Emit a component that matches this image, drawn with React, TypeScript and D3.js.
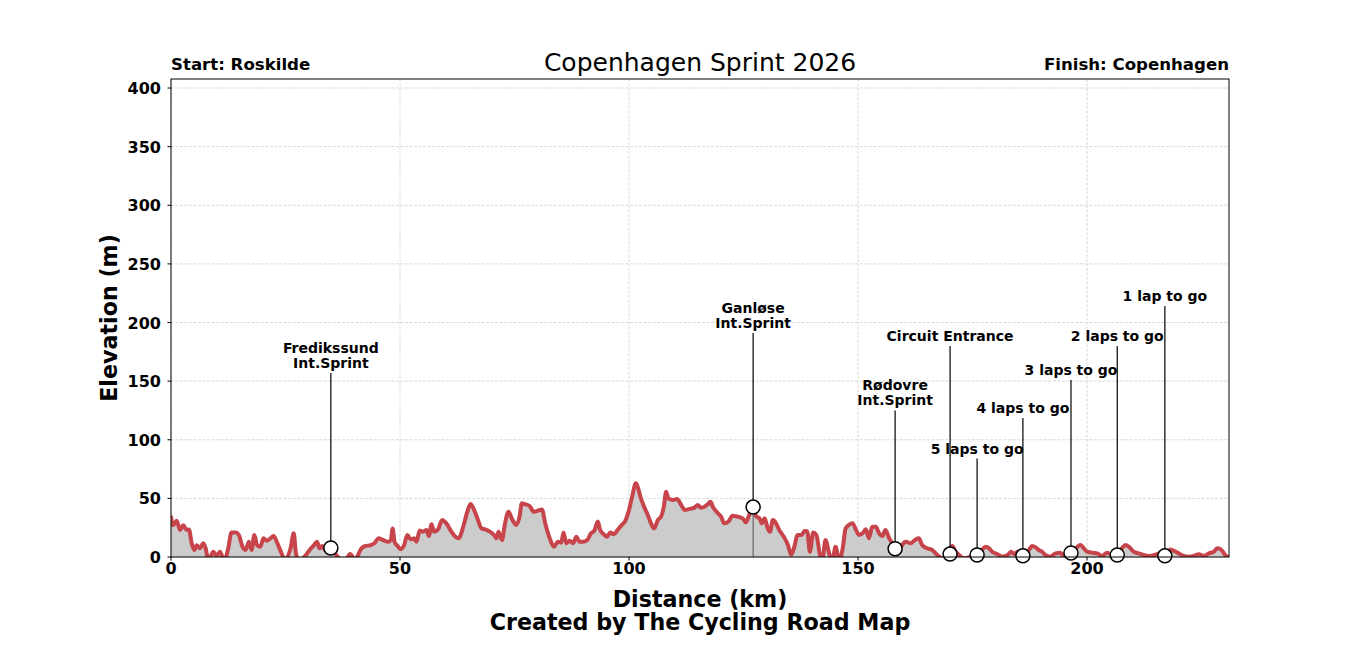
import React from "react";
import * as d3 from "d3";

// route profile
const profileKm = [
  0, 0.5, 1.24, 1.97, 2.69, 3.42, 3.93, 4.51, 5.09, 5.6, 6.33, 7.06, 7.57, 8.15, 9.24, 9.97, 10.7, 11.6,
  12.5, 13.2, 14.1, 14.8, 15.6, 16.3, 17.0, 17.6, 18.2, 18.8, 19.5, 20.2, 20.9, 21.7, 22.4, 23.1, 23.9,
  24.9, 26.1, 26.8, 27.3, 28.0, 29.3, 30.4, 31.1, 31.9, 32.4, 33.0, 33.8, 35.1, 36.2, 38.0, 39.1, 40.2,
  41.6, 42.4, 43.5, 44.4, 45.3, 46.3, 47.4, 48.0, 48.4, 48.8, 49.6, 50.1, 50.9, 51.6, 52.3, 53.1, 53.6,
  54.3, 55.0, 55.8, 56.3, 56.9, 57.4, 58.3, 59.2, 60.1, 61.2, 62.1, 62.8, 63.8, 64.7, 65.4, 66.2, 66.9,
  67.8, 68.6, 69.6, 70.5, 71.1, 71.5, 72.3, 72.8, 73.7, 74.4, 75.4, 76.1, 76.6, 77.2, 78.3, 79.2, 80.1,
  81.0, 81.7, 82.7, 83.6, 84.5, 85.2, 85.7, 86.3, 87.0, 87.8, 88.5, 89.2, 89.9, 90.9, 91.7, 92.4, 93.2,
  93.7, 94.5, 95.2, 95.9, 96.7, 97.5, 98.4, 99.1, 99.9, 100.6, 101.5, 102.0, 102.6, 103.3, 104.1, 104.8,
  105.5, 106.3, 107.0, 107.6, 108.1, 108.6, 109.6, 110.5, 111.4, 112.2, 113.2, 114.3, 115.0, 115.7,
  116.5, 117.2, 117.8, 118.3, 119.2, 120.1, 120.8, 121.7, 122.6, 123.7, 124.8, 125.5, 126.3, 127.1,
  127.8, 128.5, 129.0, 129.6, 130.3, 130.8, 131.4, 131.9, 132.8, 133.8, 134.7, 135.4, 136.1, 136.8,
  137.7, 138.3, 138.9, 139.5, 140.2, 140.9, 141.7, 142.2, 142.9, 143.7, 144.4, 145.1, 145.9, 146.6,
  147.3, 148.0, 148.8, 149.5, 150.2, 151.0, 151.7, 152.4, 153.1, 153.9, 154.6, 155.3, 156.0, 156.8,
  157.5, 158.2, 159.3, 160.4, 161.5, 162.6, 163.3, 164.0, 165.1, 166.2, 167.3, 168.4, 169.5, 170.6,
  171.3, 172.1, 173.1, 174.6, 175.7, 176.7, 177.9, 178.6, 179.3, 180.4, 181.5, 182.7, 183.4, 184.1,
  184.8, 186.2, 187.3, 188.0, 188.8, 189.5, 190.2, 190.9, 192.0, 193.1, 194.2, 194.9, 196.0, 196.8,
  197.9, 198.6, 199.3, 200.0, 201.1, 202.2, 203.3, 204.4, 205.5, 206.6, 207.6, 208.4, 209.1, 210.2,
  211.3, 212.4, 213.5, 214.6, 216.0, 217.3, 218.2, 218.9, 220.0, 221.1, 222.2, 223.3, 224.4, 225.5,
  226.6, 227.7, 228.4, 229.2, 229.9, 230.6, 231.0,
];
const profileElev = [
  34, 27, 31, 23, 27, 23, 23.5, 11.7, 6, 10, 7.4, 11.7, 7.4, -3, 4.5, 1, 4.5, -3,
  7.4, 20.8, 20.8, 18.8, 8.8, 6, 13, 6, 18.8, 10.2, 8.8, 15.9, 13.9, 15.9, 17.9, 13, 5.4,
  -2, 7.4, 20.2, 2.5, -3, 1, 6.6, 9.4, 13, 7.4, 9.4, 5.4, 6.8, 1, -3, 2.5, -2,
  7.4, 9.4, 10, 11.7, 15.9, 14.5, 13, 14.5, 24.4, 13, 8.8, 6.6, 10.2, 18.8, 15.1, 15.9, 13,
  22.5, 21.6, 23, 18, 28, 21.6, 23.6, 31.6, 28.8, 21.6, 17.3, 15.9, 25.8, 38.6, 45.2, 40, 32.9,
  24.4, 23.6, 21.6, 18.8, 15.9, 21.6, 14.5, 25.8, 38.6, 32.9, 27.3, 34.4, 45.8, 45.2, 43.5, 38.6, 39.5,
  40.6, 28.8, 15.9, 8.8, 13, 12.2, 20.8, 11.7, 13.9, 11.7, 17.3, 13, 13, 14.5, 20.2, 22.2, 30.2,
  23, 19.3, 17.3, 21, 19.3, 23, 27.3, 30.2, 38.7, 50, 62.8, 58.6, 50, 42.9, 35.8, 28.7,
  24.4, 31.5, 34.4, 42.9, 55.7, 50, 48.6, 49.5, 44.3, 40.1, 41, 42.1, 44.3, 42.1,
  42.9, 44.9, 47.2, 42.9, 38.1, 34.4, 28.7, 30.2, 35.2, 34.4, 33, 29.6, 36.4, 42,
  34.4, 33, 28.7, 33, 24.4, 21.5, 31.5, 30.1, 23, 17.3, 10.2, 2, 8.8, 18.8,
  18.8, 22.2, 22, 4.5, 20.8, 18.8, 1.7, -3, 14.5, 3, -3, 8.8, -3, 6,
  24.4, 27.3, 28.8, 23.6, 18.8, 20.2, 23.6, 16, 25.8, 25.8, 20.2, 18, 23, 16,
  11.7, 6.5, 8.8, 13, 11.7, 15, 16, 10.2, 7.4, 6, 1.7, -1, 3, 9.4,
  4.5, 1.7, -1, 0.3, 1.7, 4.5, 8.8, 7.4, 4.5, 2.5, 0.3, 1.7, 4.5, 2.5,
  4.5, 1.7, 5.9, 9.4, 8.2, 5.9, 4.5, 1.7, 0.3, 3.1, 3.7, 0.9, 1.7, 3.1,
  8.8, 10.2, 7.4, 4.5, 3.7, 3.1, 0.9, 3.7, 1.7, 3.1, 7.4, 10.2, 8.8, 4.5,
  3.1, 1.7, 0.9, 1.7, 3.1, 1.7, 6.5, 5.4, 3.1, 0.9, 0.3, 0.9, 2.3, 0.9,
  3.1, 4.5, 7.4, 6.5, 3.1, 0.3, 0,
];

// sprint / lap markers
const markerLabels = [
  ["Fredikssund", "Int.Sprint"],
  ["Ganløse", "Int.Sprint"],
  ["Rødovre", "Int.Sprint"],
  ["Circuit Entrance"],
  ["5 laps to go"],
  ["4 laps to go"],
  ["3 laps to go"],
  ["2 laps to go"],
  ["1 lap to go"],
];
const markerKm = [34.9, 127.1, 158.1, 170.1, 176.0, 186.0, 196.5, 206.6, 217.0];
const markerElev = [7.7, 42.6, 7, 2.5, 1.7, 1, 3.4, 1.7, 1];
const markerLabelElev = [157, 191, 125, 180, 84, 118.5, 151, 180, 214];

const xTicks = [0, 50, 100, 150, 200];
const yTicks = [0, 50, 100, 150, 200, 250, 300, 350, 400];

const W = 1366;
const H = 655;
const left = 171, right = 1229, top = 79, bottom = 557;
const FONT = "DejaVu Sans, sans-serif";

export default function App() {
  const x = d3.scaleLinear().domain([0, 231]).range([left, right]);
  const y = d3.scaleLinear().domain([0, 407.7]).range([bottom, top]);

  const pts = profileKm.map((k, i) => [k, profileElev[i]] as [number, number]);
  const line = d3.line<[number, number]>().x((d) => x(d[0])).y((d) => y(d[1])).curve(d3.curveMonotoneX);
  const area = d3
    .area<[number, number]>()
    .x((d) => x(d[0]))
    .y0(y(0))
    .y1((d) => y(d[1]))
    .curve(d3.curveMonotoneX);

  return (
    <svg width={W} height={H} style={{ position: "absolute", left: 0, top: 0, background: "#fff" }} fontFamily={FONT}>
      <defs>
        <clipPath id="plot">
          <rect x={left} y={top} width={right - left} height={bottom - top} />
        </clipPath>
      </defs>

      {/* grid */}
      {xTicks.map((t) => (
        <line key={"gx" + t} x1={x(t)} x2={x(t)} y1={top} y2={bottom} stroke="#cfcfcf" strokeWidth={0.8} strokeDasharray="3,1.5" />
      ))}
      {yTicks.map((t) => (
        <line key={"gy" + t} x1={left} x2={right} y1={y(t)} y2={y(t)} stroke="#cfcfcf" strokeWidth={0.8} strokeDasharray="3,1.5" />
      ))}

      <g clipPath="url(#plot)">
        <path d={area(pts) || ""} fill="#cccccc" />
        <line x1={x(markerKm[1])} x2={x(markerKm[1])} y1={y(markerElev[1])} y2={bottom} stroke="#555" strokeWidth={1} />
        <path d={line(pts) || ""} fill="none" stroke="#c8444b" strokeWidth={4} strokeLinejoin="round" strokeLinecap="round" />
      </g>

      {/* markers */}
      {markerKm.map((k, i) => {
        const cx = x(k);
        const cy = y(markerElev[i]);
        const ly = y(markerLabelElev[i]);
        const lines = markerLabels[i];
        return (
          <g key={"m" + i}>
            <line x1={cx} x2={cx} y1={ly} y2={cy} stroke="#000" strokeWidth={1.2} />
            <circle cx={cx} cy={cy} r={7} fill="#fff" stroke="#000" strokeWidth={1.5} />
            {lines.map((s, j) => (
              <text
                key={j}
                x={cx}
                y={ly - 5 - (lines.length - 1 - j) * 15}
                textAnchor="middle"
                fontSize={14}
                fontWeight="bold"
              >
                {s}
              </text>
            ))}
          </g>
        );
      })}

      {/* frame */}
      <rect x={left} y={top} width={right - left} height={bottom - top} fill="none" stroke="#000" strokeWidth={1} />

      {/* axes ticks */}
      {xTicks.map((t) => (
        <g key={"xt" + t}>
          <line x1={x(t)} x2={x(t)} y1={bottom} y2={bottom + 3.5} stroke="#000" />
          <text x={x(t)} y={bottom + 17} textAnchor="middle" fontSize={16} fontWeight="bold">
            {t}
          </text>
        </g>
      ))}
      {yTicks.map((t) => (
        <g key={"yt" + t}>
          <line x1={left - 3.5} x2={left} y1={y(t)} y2={y(t)} stroke="#000" />
          <text x={left - 10} y={y(t) + 6} textAnchor="end" fontSize={16} fontWeight="bold">
            {t}
          </text>
        </g>
      ))}

      {/* titles */}
      <text x={(left + right) / 2} y={71} textAnchor="middle" fontSize={25}>
        Copenhagen Sprint 2026
      </text>
      <text x={left} y={70} fontSize={16.6} fontWeight="bold">
        Start: Roskilde
      </text>
      <text x={right} y={70} textAnchor="end" fontSize={16.6} fontWeight="bold">
        Finish: Copenhagen
      </text>
      <text x={(left + right) / 2} y={607} textAnchor="middle" fontSize={22.2} fontWeight="bold">
        Distance (km)
      </text>
      <text x={(left + right) / 2} y={630} textAnchor="middle" fontSize={22.2} fontWeight="bold">
        Created by The Cycling Road Map
      </text>
      <text
        transform={`translate(${117},${(top + bottom) / 2}) rotate(-90)`}
        textAnchor="middle"
        fontSize={22.2}
        fontWeight="bold"
      >
        Elevation (m)
      </text>
    </svg>
  );
}
